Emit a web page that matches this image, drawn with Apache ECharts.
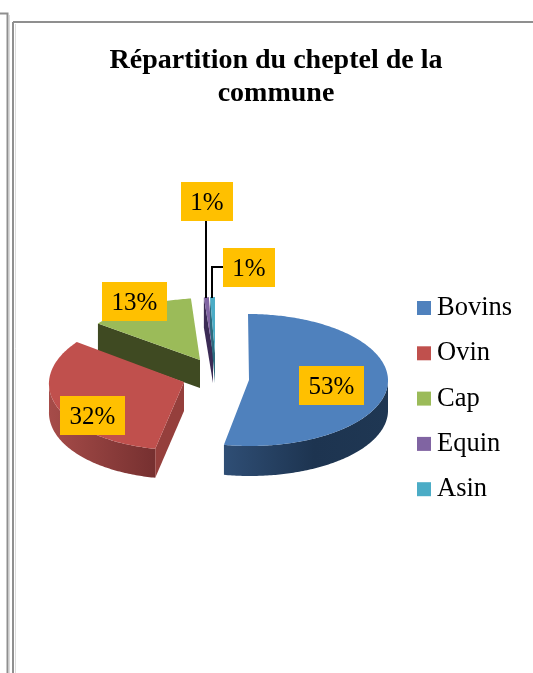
<!DOCTYPE html>
<html><head><meta charset="utf-8">
<style>html,body{margin:0;padding:0;background:#fff}#c{width:533px;height:673px}</style>
<script src="https://cdn.jsdelivr.net/npm/echarts@6/dist/echarts.min.js"></script>
</head><body><div id="c"></div>
<script>
const titleText = "Répartition du cheptel de la\ncommune";
const categories = ["Bovins","Ovin","Cap","Equin","Asin"];
const values = [53,32,13,1,1];

const topColors = ["#4F81BD","#C0504D","#9BBB59","#8064A2","#4BACC6"];
const faceColors = ["#1F3652","#953F3C","#3F4A22","#3B2B55","#2C6B7E"];
const wallStops = [
  [[0,"#2F4E75"],[0.55,"#1D3450"],[1,"#1F3753"]],
  [[0,"#A64C49"],[1,"#763030"]],
  [[0,"#3F4A22"],[1,"#3F4A22"]],
  [[0,"#3B2B55"],[1,"#3B2B55"]],
  [[0,"#2C6B7E"],[1,"#2C6B7E"]]
];
// apex, projected radii (a: sin, b: cos skew, c: vertical), extrusion depth
const proj = [
  {x:249,y:380,a:139,b:-1,c:66,d:30},
  {x:184,y:382,a:135,b:3.5,c:68,d:29},
  {x:200,y:360,a:131.6,b:7.5,c:62,d:28},
  {x:213,y:353,a:80,b:0.9,c:56,d:30},
  {x:215,y:353,a:80,b:0,c:56,d:30}
];
// label boxes [cx, cy, w, h]
const boxes = [[331.5,385.5,65,39],[92.5,415.5,65,39],[134.5,301.5,65,39],[207,201.5,52,39],[249,267.5,52,39]];
const leaders = [null,null,null,[[206,221],[206,298]],[[223,267],[212,267],[212,298]]];
const serif = '"Liberation Serif","Times New Roman",serif';
const total = values.reduce((s,v)=>s+v,0);
const zOrder = [3,4,2,3,3];

function sliceItem(i){
  return function(){
    const p = proj[i];
    const before = values.slice(0,i).reduce((s,v)=>s+v,0);
    const t0 = before/total*2*Math.PI, t1 = (before+values[i])/total*2*Math.PI;
    const pt = t => [p.x + p.a*Math.sin(t) + p.b*Math.cos(t), p.y - p.c*Math.cos(t)];
    const arc = (a,b) => { const out=[]; const n=Math.max(4,Math.ceil((b-a)/0.015));
      for(let k=0;k<=n;k++) out.push(pt(a+(b-a)*k/n)); return out; };
    const down = q => [q[0],q[1]+p.d];
    const kids = [];
    const pi = Math.PI;
    // outer wall
    const w0 = Math.max(t0,pi/2), w1 = Math.min(t1,3*pi/2);
    if(w1>w0){
      const top = arc(w0,w1);
      kids.push({type:'polygon',shape:{points:top.concat(top.slice().reverse().map(down))},
        style:{fill:{type:'linear',x:0,y:0,x2:1,y2:0,colorStops:wallStops[i].map(s=>({offset:s[0],color:s[1]}))}}});
    }
    // cut face of the starting edge
    if(t0>pi && t0<2*pi){
      const e = pt(t0), o=[p.x,p.y];
      kids.push({type:'polygon',shape:{points:[o,e,down(e),down(o)]},style:{fill:faceColors[i]}});
    }
    // top surface
    kids.push({type:'polygon',shape:{points:[[p.x,p.y]].concat(arc(t0,t1))},style:{fill:topColors[i]}});
    // leader
    if(leaders[i]) kids.push({type:'polyline',shape:{points:leaders[i]},style:{fill:null,stroke:'#000',lineWidth:2}});
    // label
    const b = boxes[i];
    kids.push({type:'rect',shape:{x:b[0]-b[2]/2,y:b[1]-b[3]/2,width:b[2],height:b[3]},style:{fill:'#FFC000'}});
    kids.push({type:'text',style:{x:b[0],y:b[1]+2,text:Math.round(values[i]/total*100)+'%',align:'center',verticalAlign:'middle',
      font:'25px '+serif,fill:'#000'}});
    return {type:'group',children:kids};
  };
}

const frameColor = '#8f8f8f', frameLight='#dcdcdc';
const chart = echarts.init(document.getElementById('c'),null,{renderer:'canvas'});
chart.setOption({
  animation:false,
  backgroundColor:'#fff',
  color:topColors,
  title:{text:titleText,left:271,top:39,textAlign:'center',
    textStyle:{fontFamily:serif,fontWeight:'bold',fontSize:28,lineHeight:33,color:'#000'}},
  legend:{orient:'vertical',left:417,top:293,padding:0,itemWidth:14,itemHeight:14,itemGap:15.3,icon:'rect',
    data:categories,selectedMode:false,
    textStyle:{fontFamily:serif,fontSize:26.5,color:'#000',lineHeight:30,padding:[0,0,0,1]}},
  graphic:[
    {type:'polyline',shape:{points:[[0,13.5],[7.5,13.5],[7.5,673]]},style:{fill:null,stroke:frameColor,lineWidth:2}},
    {type:'line',shape:{x1:9.5,y1:15,x2:9.5,y2:673},style:{stroke:frameLight,lineWidth:1}},
    {type:'polyline',shape:{points:[[13,22],[13,673]]},style:{fill:null,stroke:frameColor,lineWidth:2}},
    {type:'line',shape:{x1:13,y1:22,x2:533,y2:22},style:{stroke:frameColor,lineWidth:2}},
    {type:'line',shape:{x1:15.5,y1:24,x2:15.5,y2:673},style:{stroke:frameLight,lineWidth:1}}
  ],
  series:categories.map((name,i)=>({
    type:'custom',name,coordinateSystem:'none',z:zOrder[i],silent:true,
    itemStyle:{color:topColors[i]},
    data:[[values[i]]],
    renderItem:sliceItem(i)
  }))
});
</script></body></html>
